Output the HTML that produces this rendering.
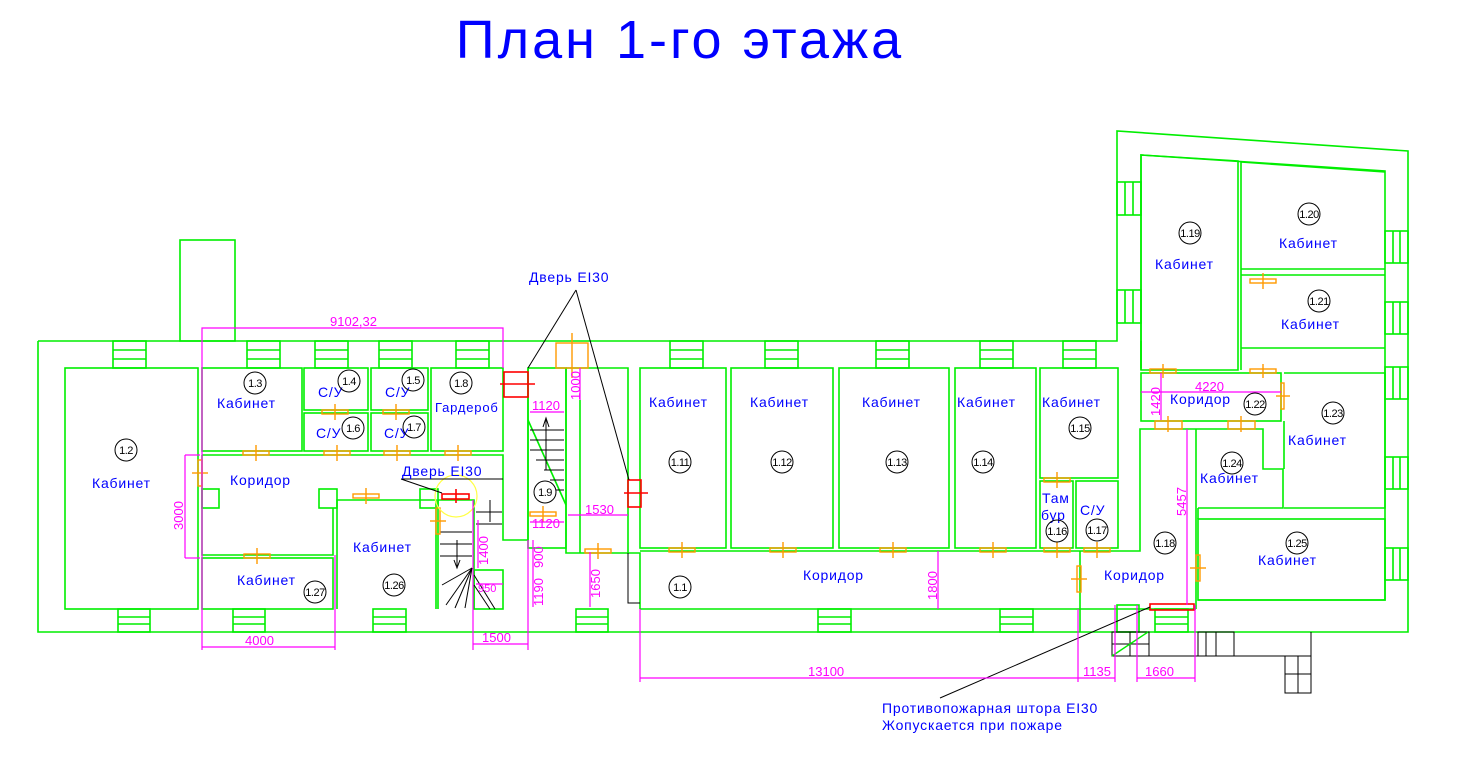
<!DOCTYPE html>
<html><head><meta charset="utf-8"><style>
html,body{margin:0;padding:0;background:#fff;width:1466px;height:771px;overflow:hidden}
svg{display:block}
text{font-family:"Liberation Sans",sans-serif}
.g{fill:none;stroke:#00ee00;stroke-width:1.6}
.m{fill:none;stroke:#ff00ff;stroke-width:1.2}
.mt{fill:#ff00ff;font-size:13px}
.b{fill:#0000ff;font-size:14px;letter-spacing:0.8px}
.n{fill:#000;font-size:11px;letter-spacing:-0.5px}
.c{fill:none;stroke:#000;stroke-width:1}
.o{fill:none;stroke:#ff9900;stroke-width:1.4}
.r{fill:none;stroke:#ff0000;stroke-width:1.6}
.k{fill:none;stroke:#000;stroke-width:1}
</style></head><body>
<svg width="1466" height="771" viewBox="0 0 1466 771" xmlns="http://www.w3.org/2000/svg">
<text x="680" y="58" text-anchor="middle" fill="#0000ff" style="font-size:54px;letter-spacing:3px">План 1-го этажа</text>

<!-- outer shell -->
<polyline class="g" points="38,341 1117,341 1117,131 1408,151 1408,632 38,632 38,341"/>
<rect class="g" x="180" y="240" width="55" height="101"/>
<polyline class="g" points="1141,370 1141,155 1385,171 1385,600 1198,600"/>
<line class="g" x1="1141" y1="368" x2="1141" y2="341"/>

<!-- rooms left -->
<rect class="g" x="65" y="368" width="133" height="241"/>
<rect class="g" x="202" y="368" width="100" height="83"/>
<rect class="g" x="304" y="368" width="64" height="42"/>
<rect class="g" x="304" y="413" width="64" height="38"/>
<rect class="g" x="371" y="368" width="57" height="42"/>
<rect class="g" x="371" y="413" width="57" height="38"/>
<rect class="g" x="431" y="368" width="72" height="83"/>
<polyline class="g" points="202,455 503,455 503,540 528,540 528,368"/>
<polyline class="g" points="202,455 202,555 333,555 333,508"/>
<rect class="g" x="202" y="489" width="17" height="19"/>
<rect class="g" x="319" y="489" width="18" height="19"/>
<rect class="g" x="420" y="489" width="18" height="19"/>
<rect class="g" x="202" y="558" width="131" height="51"/>
<polyline class="g" points="337,609 337,500 436,500 436,609"/>
<polyline class="g" points="438,609 438,500 474,500 474,609"/>
<rect class="g" x="474" y="570" width="29" height="39"/>
<rect class="g" x="528" y="368" width="38" height="180"/>
<line class="g" x1="528" y1="420" x2="566" y2="505"/>
<polyline class="g" points="566,368 628,368 628,553 566,553 566,368"/>
<line class="g" x1="580" y1="400" x2="580" y2="553"/>
<g class="k">
<line x1="530" y1="430" x2="564" y2="430"/><line x1="530" y1="440" x2="564" y2="440"/><line x1="530" y1="450" x2="564" y2="450"/><line x1="536" y1="460" x2="564" y2="460"/><line x1="544" y1="470" x2="564" y2="470"/><line x1="550" y1="480" x2="564" y2="480"/><line x1="556" y1="490" x2="564" y2="490"/>
<line x1="546" y1="420" x2="546" y2="470"/><polyline points="543,427 546,418 549,427"/>
<line x1="476" y1="512" x2="502" y2="512"/><line x1="476" y1="524" x2="502" y2="524"/><line x1="490" y1="500" x2="490" y2="522"/>
<line x1="440" y1="532" x2="472" y2="532"/><line x1="440" y1="544" x2="472" y2="544"/><line x1="440" y1="556" x2="472" y2="556"/>
<line x1="457" y1="540" x2="457" y2="566"/><polyline points="454,560 457,568 460,560"/>
<line x1="472" y1="568" x2="442" y2="585"/><line x1="472" y1="568" x2="446" y2="605"/><line x1="472" y1="568" x2="455" y2="608"/><line x1="472" y1="568" x2="465" y2="608"/><line x1="474" y1="575" x2="495" y2="609"/><line x1="474" y1="585" x2="490" y2="609"/>
</g>
<polyline class="g" points="628,553 640,553 640,609"/>
<polyline class="k" points="628,553 628,603 640,603"/>

<!-- rooms middle -->
<rect class="g" x="640" y="368" width="86" height="180"/>
<rect class="g" x="731" y="368" width="102" height="180"/>
<rect class="g" x="839" y="368" width="110" height="180"/>
<rect class="g" x="955" y="368" width="81" height="180"/>
<rect class="g" x="1040" y="368" width="78" height="110"/>
<rect class="g" x="1040" y="481" width="33" height="67"/>
<rect class="g" x="1076" y="481" width="42" height="67"/>
<polyline class="g" points="640,551 1140,551 1140,429 1198,429"/>
<line class="g" x1="640" y1="609" x2="1196" y2="609"/>
<line class="g" x1="1080" y1="551" x2="1080" y2="632"/>
<line class="g" x1="1196" y1="429" x2="1196" y2="609"/>
<!-- right wing rooms -->
<polygon class="g" points="1141,155 1238,161 1238,370 1141,370"/>
<polyline class="g" points="1241,370 1241,162 1385,172"/>
<line class="g" x1="1241" y1="269" x2="1385" y2="269"/>
<line class="g" x1="1241" y1="275" x2="1385" y2="275"/>
<line class="g" x1="1241" y1="348" x2="1385" y2="348"/>
<rect class="g" x="1141" y="373" width="140" height="48"/>
<polyline class="g" points="1284,373 1385,373 1385,508 1284,508"/>
<polyline class="g" points="1198,429 1263,429 1263,469 1283,469 1283,508 1198,508"/>
<line class="g" x1="1284" y1="421" x2="1284" y2="469"/>
<rect class="g" x="1198" y="519" width="187" height="81"/>
<line class="g" x1="1198" y1="508" x2="1198" y2="519"/>
<rect class="g" x="1117" y="605" width="22" height="27"/>

<!-- windows -->
<g class="g">
<rect x="113" y="341" width="33" height="27"/><line x1="113" y1="350" x2="146" y2="350"/><line x1="113" y1="359" x2="146" y2="359"/>
<rect x="247" y="341" width="33" height="27"/><line x1="247" y1="350" x2="280" y2="350"/><line x1="247" y1="359" x2="280" y2="359"/>
<rect x="315" y="341" width="33" height="27"/><line x1="315" y1="350" x2="348" y2="350"/><line x1="315" y1="359" x2="348" y2="359"/>
<rect x="379" y="341" width="33" height="27"/><line x1="379" y1="350" x2="412" y2="350"/><line x1="379" y1="359" x2="412" y2="359"/>
<rect x="456" y="341" width="33" height="27"/><line x1="456" y1="350" x2="489" y2="350"/><line x1="456" y1="359" x2="489" y2="359"/>
<rect x="670" y="341" width="33" height="27"/><line x1="670" y1="350" x2="703" y2="350"/><line x1="670" y1="359" x2="703" y2="359"/>
<rect x="765" y="341" width="33" height="27"/><line x1="765" y1="350" x2="798" y2="350"/><line x1="765" y1="359" x2="798" y2="359"/>
<rect x="876" y="341" width="33" height="27"/><line x1="876" y1="350" x2="909" y2="350"/><line x1="876" y1="359" x2="909" y2="359"/>
<rect x="980" y="341" width="33" height="27"/><line x1="980" y1="350" x2="1013" y2="350"/><line x1="980" y1="359" x2="1013" y2="359"/>
<rect x="1063" y="341" width="33" height="27"/><line x1="1063" y1="350" x2="1096" y2="350"/><line x1="1063" y1="359" x2="1096" y2="359"/>
<rect x="118" y="609" width="32" height="23"/><line x1="118" y1="617" x2="150" y2="617"/><line x1="118" y1="624" x2="150" y2="624"/>
<rect x="233" y="609" width="32" height="23"/><line x1="233" y1="617" x2="265" y2="617"/><line x1="233" y1="624" x2="265" y2="624"/>
<rect x="373" y="609" width="33" height="23"/><line x1="373" y1="617" x2="406" y2="617"/><line x1="373" y1="624" x2="406" y2="624"/>
<rect x="576" y="609" width="32" height="23"/><line x1="576" y1="617" x2="608" y2="617"/><line x1="576" y1="624" x2="608" y2="624"/>
<rect x="818" y="609" width="33" height="23"/><line x1="818" y1="617" x2="851" y2="617"/><line x1="818" y1="624" x2="851" y2="624"/>
<rect x="1000" y="609" width="33" height="23"/><line x1="1000" y1="617" x2="1033" y2="617"/><line x1="1000" y1="624" x2="1033" y2="624"/>
<rect x="1155" y="609" width="33" height="23"/><line x1="1155" y1="617" x2="1188" y2="617"/><line x1="1155" y1="624" x2="1188" y2="624"/>
<rect x="1117" y="182" width="24" height="33"/><line x1="1125" y1="182" x2="1125" y2="215"/><line x1="1133" y1="182" x2="1133" y2="215"/>
<rect x="1117" y="290" width="24" height="33"/><line x1="1125" y1="290" x2="1125" y2="323"/><line x1="1133" y1="290" x2="1133" y2="323"/>
<rect x="1385" y="231" width="23" height="32"/><line x1="1393" y1="231" x2="1393" y2="263"/><line x1="1400" y1="231" x2="1400" y2="263"/>
<rect x="1385" y="302" width="23" height="32"/><line x1="1393" y1="302" x2="1393" y2="334"/><line x1="1400" y1="302" x2="1400" y2="334"/>
<rect x="1385" y="367" width="23" height="32"/><line x1="1393" y1="367" x2="1393" y2="399"/><line x1="1400" y1="367" x2="1400" y2="399"/>
<rect x="1385" y="457" width="23" height="32"/><line x1="1393" y1="457" x2="1393" y2="489"/><line x1="1400" y1="457" x2="1400" y2="489"/>
<rect x="1385" y="548" width="23" height="32"/><line x1="1393" y1="548" x2="1393" y2="580"/><line x1="1400" y1="548" x2="1400" y2="580"/>
</g>

<g class="k" stroke-width="1.4">
<rect x="1112" y="632" width="37" height="24"/><line x1="1130" y1="632" x2="1130" y2="656"/><line x1="1112" y1="644" x2="1149" y2="644"/>
<rect x="1198" y="632" width="36" height="24"/><line x1="1216" y1="632" x2="1216" y2="656"/><line x1="1206" y1="632" x2="1206" y2="656"/>
<line x1="1149" y1="656" x2="1285" y2="656"/><polyline points="1311,632 1311,656"/>
<rect x="1285" y="656" width="26" height="37"/><line x1="1298" y1="656" x2="1298" y2="693"/><line x1="1285" y1="674" x2="1311" y2="674"/>
</g>
<line x1="1112" y1="656" x2="1148" y2="632" stroke="#00ee00" stroke-width="1.4"/>

<g class="o">
<rect x="243" y="451" width="26" height="4"/><line x1="256" y1="445" x2="256" y2="461"/>
<rect x="324" y="451" width="26" height="4"/><line x1="337" y1="445" x2="337" y2="461"/>
<rect x="384" y="451" width="26" height="4"/><line x1="397" y1="445" x2="397" y2="461"/>
<rect x="445" y="451" width="26" height="4"/><line x1="458" y1="445" x2="458" y2="461"/>
<rect x="322" y="410" width="26" height="4"/><line x1="335" y1="404" x2="335" y2="420"/>
<rect x="383" y="410" width="26" height="4"/><line x1="396" y1="404" x2="396" y2="420"/>
<rect x="198" y="460" width="4" height="26"/><line x1="192" y1="473" x2="208" y2="473"/>
<rect x="244" y="554" width="26" height="4"/><line x1="257" y1="548" x2="257" y2="564"/>
<rect x="353" y="494" width="26" height="4"/><line x1="366" y1="488" x2="366" y2="504"/>
<rect x="436" y="508" width="4" height="26"/><line x1="430" y1="521" x2="446" y2="521"/>
<rect x="530" y="512" width="26" height="4"/><line x1="543" y1="506" x2="543" y2="522"/>
<rect x="585" y="549" width="26" height="4"/><line x1="598" y1="543" x2="598" y2="559"/>
<rect x="556" y="343" width="32" height="25"/><line x1="572" y1="333" x2="572" y2="378"/>
<rect x="669" y="548" width="26" height="4"/><line x1="682" y1="542" x2="682" y2="558"/>
<rect x="770" y="548" width="26" height="4"/><line x1="783" y1="542" x2="783" y2="558"/>
<rect x="880" y="548" width="26" height="4"/><line x1="893" y1="542" x2="893" y2="558"/>
<rect x="980" y="548" width="26" height="4"/><line x1="993" y1="542" x2="993" y2="558"/>
<rect x="1044" y="548" width="26" height="4"/><line x1="1057" y1="542" x2="1057" y2="558"/>
<rect x="1084" y="548" width="26" height="4"/><line x1="1097" y1="542" x2="1097" y2="558"/>
<rect x="1044" y="478" width="26" height="4"/><line x1="1057" y1="472" x2="1057" y2="488"/>
<rect x="1077" y="566" width="4" height="26"/><line x1="1071" y1="579" x2="1087" y2="579"/>
<rect x="1196" y="555" width="4" height="26"/><line x1="1190" y1="568" x2="1206" y2="568"/>
<rect x="1150" y="369" width="26" height="4"/><line x1="1163" y1="364" x2="1163" y2="378"/>
<rect x="1250" y="369" width="26" height="4"/><line x1="1263" y1="364" x2="1263" y2="378"/>
<rect x="1250" y="279" width="26" height="4"/><line x1="1263" y1="273" x2="1263" y2="289"/>
<rect x="1155" y="421" width="27" height="8"/><line x1="1168" y1="416" x2="1168" y2="432"/>
<rect x="1228" y="421" width="27" height="8"/><line x1="1241" y1="416" x2="1241" y2="432"/>
<rect x="1281" y="383" width="3" height="26"/><line x1="1276" y1="396" x2="1290" y2="396"/>
</g>
<g class="r">
<rect x="504" y="372" width="24" height="25"/><line x1="500" y1="384" x2="535" y2="384"/>
<rect x="628" y="480" width="13" height="27"/><line x1="624" y1="493" x2="648" y2="493"/>
<rect x="442" y="494" width="27" height="5"/><line x1="456" y1="489" x2="456" y2="503"/>
<rect x="1150" y="604" width="44" height="6"/>
</g>
<circle cx="456" cy="496" r="21" fill="none" stroke="#ffff44" stroke-width="1.2"/>

<g class="c">
<line x1="576" y1="290" x2="528" y2="368"/><line x1="576" y1="290" x2="629" y2="480"/>
<line x1="401" y1="479" x2="503" y2="479"/><line x1="401" y1="479" x2="442" y2="493"/>
<line x1="1150" y1="607" x2="940" y2="698"/>
</g>
<text class="b" x="529" y="282">Дверь EI30</text>
<text class="b" x="402" y="476">Дверь EI30</text>
<text class="b" x="882" y="713">Противопожарная штора EI30</text>
<text class="b" x="882" y="730">Жопускается при пожаре</text>

<g class="m">
<polyline points="202,555 202,328 503,328 503,368"/><polyline points="335,555 335,650"/><line x1="202" y1="555" x2="202" y2="650"/><line x1="202" y1="647" x2="335" y2="647"/>
<line x1="185" y1="455" x2="185" y2="558"/><line x1="185" y1="455" x2="200" y2="455"/><line x1="185" y1="558" x2="200" y2="558"/>
<line x1="473" y1="500" x2="473" y2="650"/><line x1="528" y1="540" x2="528" y2="650"/><line x1="473" y1="644" x2="528" y2="644"/>
<line x1="478" y1="520" x2="478" y2="568"/><line x1="476" y1="584" x2="503" y2="584"/>
<line x1="533" y1="540" x2="533" y2="607"/>
<line x1="530" y1="412" x2="564" y2="412"/><line x1="530" y1="522" x2="564" y2="522"/>
<line x1="568" y1="515" x2="628" y2="515"/><line x1="590" y1="552" x2="590" y2="607"/>
<line x1="580" y1="368" x2="580" y2="400"/>
<line x1="640" y1="609" x2="640" y2="682"/><line x1="1078" y1="609" x2="1078" y2="682"/><line x1="1115" y1="605" x2="1115" y2="682"/><line x1="1137" y1="605" x2="1137" y2="682"/><line x1="1195" y1="605" x2="1195" y2="682"/>
<line x1="640" y1="678" x2="1078" y2="678"/><line x1="1078" y1="678" x2="1115" y2="678"/><line x1="1137" y1="678" x2="1195" y2="678"/>
<line x1="938" y1="551" x2="938" y2="609"/>
<line x1="1187" y1="429" x2="1187" y2="605"/>
<line x1="1161" y1="373" x2="1161" y2="420"/><line x1="1141" y1="392" x2="1281" y2="392"/>
</g>
<text class="mt" x="330" y="326">9102,32</text>
<text class="mt" x="245" y="645">4000</text>
<text class="mt" x="482" y="642">1500</text>
<text class="mt" x="532" y="410">1120</text>
<text class="mt" x="532" y="528">1120</text>
<text class="mt" x="585" y="514">1530</text>
<text class="mt" x="478" y="592" style="font-size:11px">950</text>
<text class="mt" x="808" y="676">13100</text>
<text class="mt" x="1083" y="676">1135</text>
<text class="mt" x="1145" y="676">1660</text>
<text class="mt" x="1195" y="391">4220</text>
<text class="mt" transform="translate(183,530) rotate(-90)">3000</text>
<text class="mt" transform="translate(488,565) rotate(-90)">1400</text>
<text class="mt" transform="translate(543,606) rotate(-90)">1190</text>
<text class="mt" transform="translate(543,568) rotate(-90)">900</text>
<text class="mt" transform="translate(600,598) rotate(-90)">1650</text>
<text class="mt" transform="translate(580,400) rotate(-90)">1000</text>
<text class="mt" transform="translate(937,600) rotate(-90)">1800</text>
<text class="mt" transform="translate(1186,516) rotate(-90)">5457</text>
<text class="mt" transform="translate(1160,416) rotate(-90)">1420</text>

<g class="b">
<text x="92" y="488">Кабинет</text>
<text x="217" y="408">Кабинет</text>
<text x="318" y="397">С/У</text><text x="385" y="397">С/У</text>
<text x="316" y="438">С/У</text><text x="384" y="438">С/У</text>
<text x="435" y="412" style="font-size:13px">Гардероб</text>
<text x="230" y="485">Коридор</text>
<text x="353" y="552">Кабинет</text>
<text x="237" y="585">Кабинет</text>
<text x="649" y="407">Кабинет</text>
<text x="750" y="407">Кабинет</text>
<text x="862" y="407">Кабинет</text>
<text x="957" y="407">Кабинет</text>
<text x="1042" y="407">Кабинет</text>
<text x="1042" y="503">Там</text><text x="1041" y="520">бур</text>
<text x="1080" y="515">С/У</text>
<text x="803" y="580">Коридор</text>
<text x="1104" y="580">Коридор</text>
<text x="1155" y="269">Кабинет</text>
<text x="1279" y="248">Кабинет</text>
<text x="1281" y="329">Кабинет</text>
<text x="1170" y="404">Коридор</text>
<text x="1288" y="445">Кабинет</text>
<text x="1200" y="483">Кабинет</text>
<text x="1258" y="565">Кабинет</text>
</g>
<g>
<g class="c">
<circle cx="126" cy="450" r="11"/><circle cx="255" cy="383" r="11"/><circle cx="349" cy="381" r="11"/><circle cx="413" cy="380" r="11"/><circle cx="353" cy="428" r="11"/><circle cx="414" cy="427" r="11"/><circle cx="461" cy="383" r="11"/><circle cx="545" cy="492" r="11"/><circle cx="315" cy="592" r="11"/><circle cx="394" cy="585" r="11"/>
<circle cx="680" cy="462" r="11"/><circle cx="782" cy="462" r="11"/><circle cx="897" cy="462" r="11"/><circle cx="983" cy="462" r="11"/><circle cx="1080" cy="428" r="11"/><circle cx="1057" cy="531" r="11"/><circle cx="1097" cy="530" r="11"/><circle cx="1165" cy="543" r="11"/><circle cx="680" cy="587" r="11"/>
<circle cx="1190" cy="233" r="11"/><circle cx="1309" cy="214" r="11"/><circle cx="1319" cy="301" r="11"/><circle cx="1255" cy="404" r="11"/><circle cx="1333" cy="413" r="11"/><circle cx="1232" cy="463" r="11"/><circle cx="1297" cy="543" r="11"/>
</g>
<g class="n" text-anchor="middle">
<text x="126" y="454">1.2</text><text x="255" y="387">1.3</text><text x="349" y="385">1.4</text><text x="413" y="384">1.5</text><text x="353" y="432">1.6</text><text x="414" y="431">1.7</text><text x="461" y="387">1.8</text><text x="545" y="496">1.9</text><text x="315" y="596">1.27</text><text x="394" y="589">1.26</text>
<text x="680" y="466">1.11</text><text x="782" y="466">1.12</text><text x="897" y="466">1.13</text><text x="983" y="466">1.14</text><text x="1080" y="432">1.15</text><text x="1057" y="535">1.16</text><text x="1097" y="534">1.17</text><text x="1165" y="547">1.18</text><text x="680" y="591">1.1</text>
<text x="1190" y="237">1.19</text><text x="1309" y="218">1.20</text><text x="1319" y="305">1.21</text><text x="1255" y="408">1.22</text><text x="1333" y="417">1.23</text><text x="1232" y="467">1.24</text><text x="1297" y="547">1.25</text>
</g>
</g>
</svg>
</body></html>
